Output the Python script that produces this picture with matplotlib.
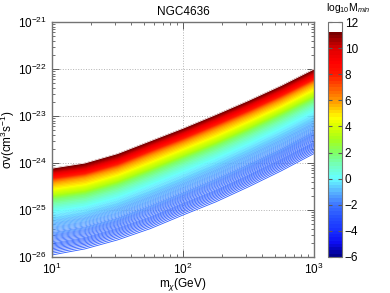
import numpy as np
import matplotlib
matplotlib.use("Agg")
import matplotlib.pyplot as plt
from matplotlib.colors import LinearSegmentedColormap, Normalize
from matplotlib.ticker import LogLocator, NullFormatter

plt.rcParams['font.family'] = ['Liberation Sans', 'DejaVu Sans']
plt.rcParams['mathtext.fontset'] = 'custom'
plt.rcParams['mathtext.rm'] = 'Liberation Sans'
plt.rcParams['mathtext.it'] = 'Liberation Sans:italic'
plt.rcParams['mathtext.sf'] = 'Liberation Sans'

# dark matter mass columns (GeV)
mchi = [10, 17.8, 31.6, 56.2, 100, 178, 316, 562, 1000]

# log10 M_min value of each iso-line
niveles = [-2.8, -2.2, -1.6, -1.0, -0.5, 0.0, 1.0, 2.0, 3.5, 5.0, 6.0, 8.0, 10.0, 11.3]

# log10 sigma v (cm^3 s^-1) where each iso-line crosses each mass column
log_sv = [
    [-25.99, -25.86, -25.67, -25.43, -25.14, -24.86, -24.54, -24.20, -23.83],
    [-25.70, -25.58, -25.38, -25.14, -24.85, -24.57, -24.25, -23.91, -23.55],
    [-25.48, -25.36, -25.17, -24.91, -24.63, -24.34, -24.03, -23.70, -23.33],
    [-25.28, -25.16, -24.97, -24.71, -24.43, -24.14, -23.83, -23.50, -23.14],
    [-25.16, -25.04, -24.85, -24.59, -24.31, -24.02, -23.71, -23.38, -23.02],
    [-25.04, -24.93, -24.74, -24.47, -24.19, -23.91, -23.60, -23.27, -22.91],
    [-24.90, -24.80, -24.60, -24.33, -24.05, -23.77, -23.46, -23.13, -22.77],
    [-24.77, -24.67, -24.47, -24.20, -23.92, -23.64, -23.33, -23.00, -22.65],
    [-24.66, -24.56, -24.36, -24.09, -23.81, -23.53, -23.22, -22.89, -22.54],
    [-24.52, -24.42, -24.22, -23.95, -23.67, -23.39, -23.08, -22.76, -22.40],
    [-24.41, -24.30, -24.11, -23.83, -23.56, -23.27, -22.97, -22.65, -22.29],
    [-24.31, -24.21, -24.01, -23.73, -23.46, -23.17, -22.87, -22.55, -22.20],
    [-24.20, -24.10, -23.90, -23.62, -23.35, -23.06, -22.76, -22.44, -22.09],
    [-24.11, -24.00, -23.80, -23.53, -23.26, -22.97, -22.67, -22.35, -22.00],
]

# colormap (jet-like, white on top)
anclas = [
    (-6.0, (0.0, 0.0, 0.55)), (-5.0, (0.05, 0.05, 0.95)), (-4.0, (0.1, 0.2, 1.0)),
    (-3.0, (0.15, 0.32, 1.0)), (-2.0, (0.25, 0.47, 1.0)), (-1.0, (0.35, 0.72, 1.0)),
    (0.0, (0.4, 1.0, 1.0)), (1.0, (0.45, 1.0, 0.75)), (2.0, (0.5, 1.0, 0.4)),
    (3.0, (0.65, 1.0, 0.1)), (4.0, (0.85, 1.0, 0.0)), (4.7, (1.0, 1.0, 0.0)),
    (5.5, (1.0, 0.75, 0.0)), (6.0, (1.0, 0.6, 0.0)), (7.0, (1.0, 0.35, 0.0)),
    (8.0, (1.0, 0.1, 0.0)), (9.0, (1.0, 0.0, 0.0)), (10.0, (0.88, 0.0, 0.0)),
    (11.3, (0.45, 0.0, 0.0)), (11.31, (1.0, 1.0, 1.0)), (12.0, (1.0, 1.0, 1.0)),
]
cmap = LinearSegmentedColormap.from_list(
    'mmin', [((v + 6) / 18.0, c) for v, c in anclas], N=72)
norm = Normalize(vmin=-6, vmax=12)

fig = plt.figure(figsize=(3.9, 2.93), dpi=100)
ax = fig.add_axes([0.1333, 0.1229, 0.672, 0.802])

X = np.tile(np.array(mchi, dtype=float), (len(niveles), 1))
Y = 10.0 ** np.array(log_sv)
Z = np.repeat(np.array(niveles)[:, None], len(mchi), axis=1)

ax.set_xscale('log')
ax.set_yscale('log')
# many thin iso-lines -> striped look of the original
ax.contour(X, Y, Z, levels=np.arange(-2.75, 11.3, 0.06), cmap=cmap, norm=norm,
           linewidths=0.6)

ax.set_xlim(10, 1000)
ax.set_ylim(1e-26, 1e-21)
ax.set_xticks([10, 100, 1000])
ax.set_yticks([1e-26, 1e-25, 1e-24, 1e-23, 1e-22, 1e-21])
ax.yaxis.set_minor_locator(LogLocator(base=10, subs=np.arange(2, 10), numticks=20))
ax.yaxis.set_minor_formatter(NullFormatter())
ax.xaxis.set_minor_formatter(NullFormatter())
ax.grid(True, which='major', linestyle=':', color='0.7', linewidth=0.7)
ax.tick_params(which='both', direction='in', top=True, right=True, labelsize=8.5,
               color='0.35')
ax.tick_params(which='major', length=5, width=0.7)
ax.tick_params(which='minor', length=2.5, width=0.6)
for s in ax.spines.values():
    s.set_color('0.45')
    s.set_linewidth(1.0)

ax.set_title('NGC4636', fontsize=8.5, pad=5)
ax.set_xlabel(r'm$_\chi$(GeV)', fontsize=8.5, labelpad=-1)
ax.set_ylabel(r'σv(cm$^3$s$^{-1}$)', fontsize=8.5, labelpad=1)

# colorbar
cax = fig.add_axes([0.841, 0.1229, 0.036, 0.802])
sm = plt.cm.ScalarMappable(cmap=cmap, norm=norm)
cb = fig.colorbar(sm, cax=cax, ticks=range(-6, 13, 2))
cb.ax.tick_params(direction='in', left=True, right=True, length=3, labelsize=8.5,
                  color='0.35', pad=2)
cb.outline.set_edgecolor('0.45')
cb.ax.set_yticklabels(['\u22126', '\u22124', '\u22122', '0', '2', '4', '6', '8', '10', '12'])
fig.text(0.893, 0.972, r'log$_{10}$M$_{min}$', fontsize=7.5, ha='center', va='center')

fig.savefig('out.png', dpi=100)
